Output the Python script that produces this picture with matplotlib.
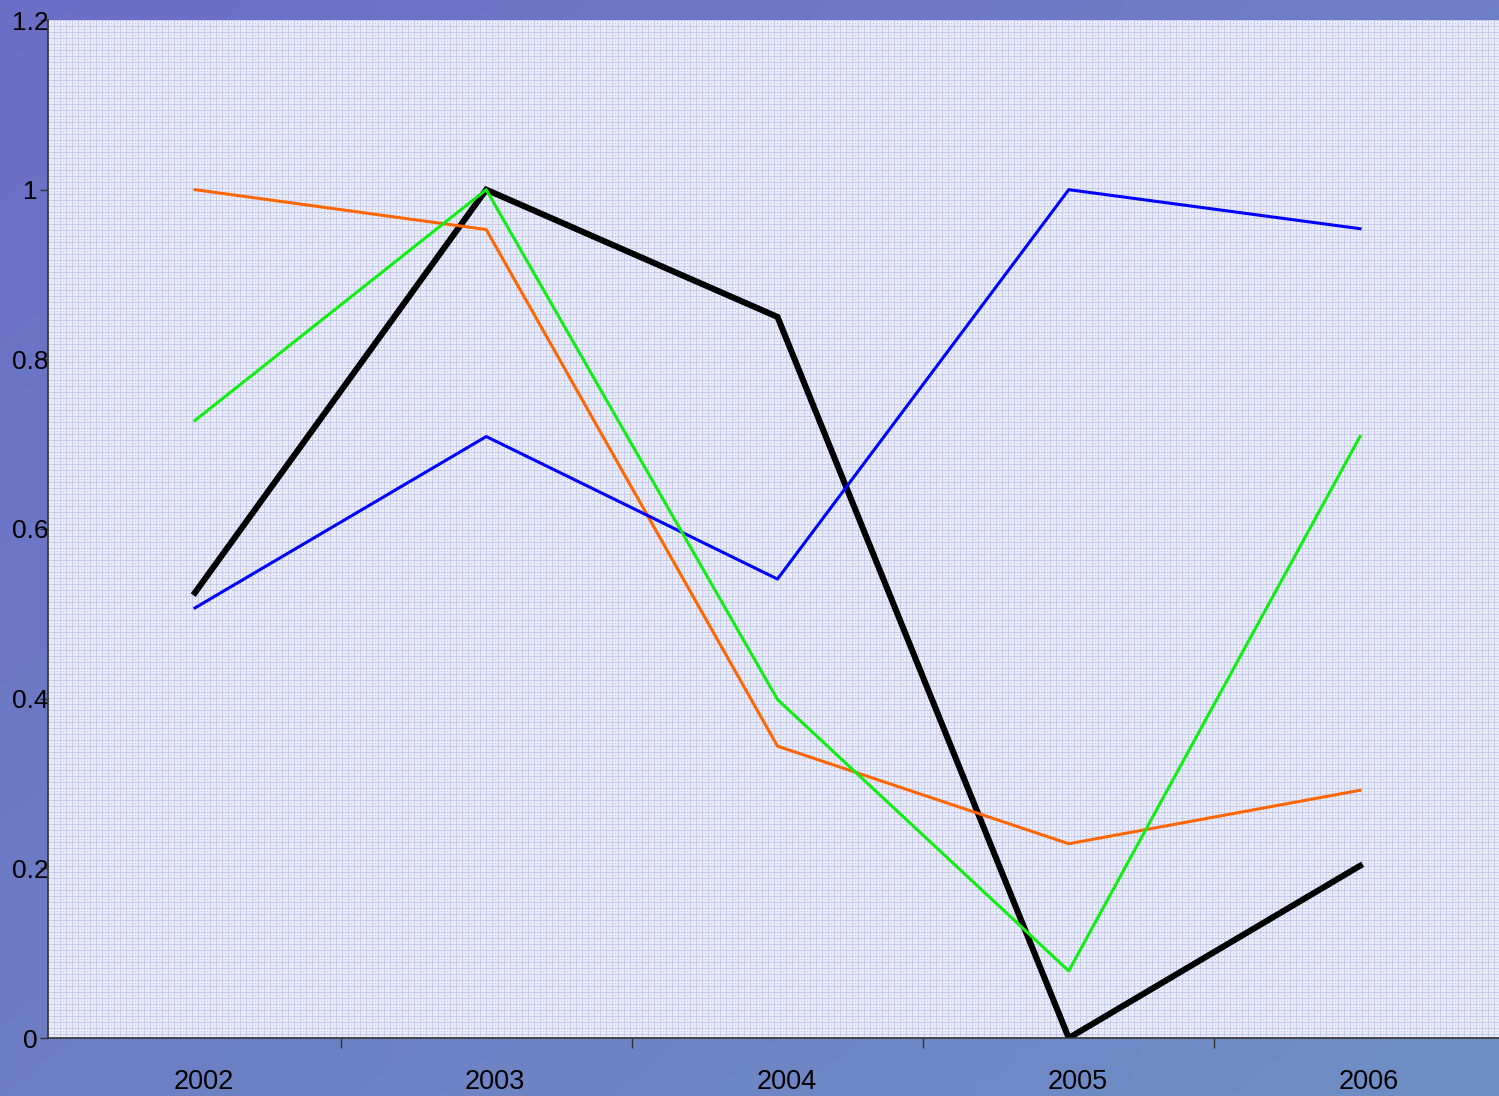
import numpy as np
import matplotlib
matplotlib.use("Agg")
import matplotlib.pyplot as plt

plt.rcParams['font.family'] = ['Liberation Sans', 'DejaVu Sans']

# Data
years = ['2002', '2003', '2004', '2005', '2006']
black_vals = [0.525, 1.0, 0.850, 0.0, 0.203]
orange_vals = [1.0, 0.953, 0.344, 0.229, 0.292]
blue_vals = [0.507, 0.709, 0.541, 1.0, 0.954]
green_vals = [0.728, 1.0, 0.399, 0.079, 0.709]
yticks = [0, 0.2, 0.4, 0.6, 0.8, 1.0, 1.2]
ytick_labels = ['0', '0.2', '0.4', '0.6', '0.8', '1', '1.2']

W, H = 1499, 1096
fig = plt.figure(figsize=(W / 100, H / 100), dpi=100)

# background gradient (diagonal, purple top-left -> lighter blue bottom-right)
tl = np.array([107, 110, 198]) / 255
tr = np.array([111, 128, 200]) / 255
bl = np.array([108, 126, 196]) / 255
br = np.array([112, 143, 198]) / 255
u = np.linspace(0, 1, W)[None, :, None]
v = np.linspace(0, 1, H)[:, None, None]
grad = (1 - v) * ((1 - u) * tl + u * tr) + v * ((1 - u) * bl + u * br)
fig.figimage(grad, 0, 0, zorder=0)

# plot area position in pixels
x0, x1 = 48, 1499
y_top, y_bot = 20, 1038
pw, ph = x1 - x0, y_bot - y_top

# fine mesh texture of the plot area
tex = np.ones((ph, pw, 3)) * np.array([234, 236, 249]) / 255
line_c = np.array([198, 203, 236]) / 255
dot_c = np.array([182, 188, 230]) / 255
rows = np.arange(ph)
cols = np.arange(pw)
tex[rows % 6 == 0, :, :] = line_c
tex[:, cols % 6 == 0, :] = line_c
tex[np.ix_(rows % 6 == 3, cols % 6 == 3)] = dot_c
fig.figimage(tex, x0, H - y_bot, zorder=0.5)

ax = fig.add_axes([x0 / W, 1 - y_bot / H, pw / W, ph / H])
ax.set_zorder(2)
ax.patch.set_visible(False)

x = np.arange(len(years))
ax.plot(x, black_vals, color='black', lw=4.4, solid_joinstyle='miter', zorder=2)
ax.plot(x, orange_vals, color='#ff6600', lw=2.2, zorder=3)
ax.plot(x, blue_vals, color='#0000ff', lw=2.2, zorder=3)
ax.plot(x, green_vals, color='#11ee11', lw=2.2, zorder=4)

for s in ['top', 'right']:
    ax.spines[s].set_visible(False)
for s in ['left', 'bottom']:
    ax.spines[s].set_color('#333333')
    ax.spines[s].set_linewidth(1.2)

ax.set_yticks(yticks)
ax.set_yticklabels(ytick_labels, fontsize=19)
ax.tick_params(axis='y', direction='out', length=5.8, width=1, color='#333333', pad=7.2)
for lab in ax.get_yticklabels():
    lab.set_horizontalalignment('center')

ax.set_xticks(x + 0.03)
ax.set_xticklabels(years, fontsize=19.5)
ax.tick_params(axis='x', which='major', length=0, pad=22)
ax.set_xticks(np.arange(0.5, 4.0, 1.0), minor=True)
ax.tick_params(axis='x', which='minor', direction='out', length=7.2, width=1, color='#333333')

# limits last so tick setting doesn't widen them
cat_w = 291.25
left = -147 / cat_w
ax.set_xlim(left, left + pw / cat_w)
ax.set_ylim(0, 1.2)

fig.savefig('out.png', dpi=100)
